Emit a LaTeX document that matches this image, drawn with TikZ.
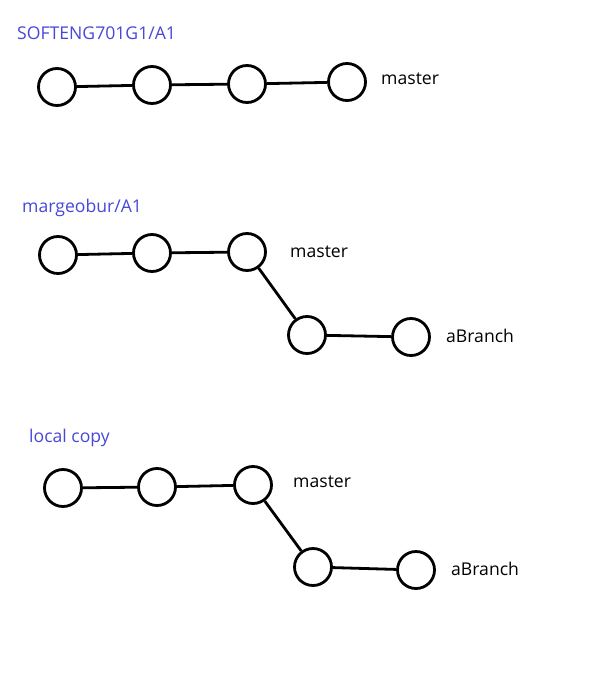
\documentclass[tikz,border=0pt]{standalone}
\usepackage{fontspec}
\setmainfont{Open Sans}
\definecolor{titleblue}{RGB}{72,72,216}
\begin{document}
\begin{tikzpicture}[x=1pt,y=-1pt,
  commit/.style={circle,draw=black,line width=2.8pt,minimum size=37pt,inner sep=0pt},
  edge/.style={line width=2.8pt,black},
  title/.style={anchor=west,text=titleblue,font=\fontsize{17.6}{20}\selectfont,inner sep=0pt},
  label/.style={anchor=west,text=black,font=\fontsize{17.6}{20}\selectfont,inner sep=0pt}]
\useasboundingbox[fill=white] (0,0) rectangle (611,687);
% top
\node[title] (t1) at (17,33) {SOFTENG701G1/A1};
\node[commit] (a1) at (57,87) {};
\node[commit] (a2) at (152,85) {};
\node[commit] (a3) at (247,84) {};
\node[commit] (a4) at (347,82) {};
\node[label] (m1) at (381,79) {master};
\draw[edge] (a1) -- (a2);
\draw[edge] (a2) -- (a3);
\draw[edge] (a3) -- (a4);
% middle
\node[title] (t2) at (22,208) {margeobur/A1};
\node[commit] (b1) at (58,255) {};
\node[commit] (b2) at (152,253) {};
\node[commit] (b3) at (247,252) {};
\node[commit] (b4) at (307,335) {};
\node[commit] (b5) at (411,337) {};
\node[label] (m2) at (290,252) {master};
\node[label] (br2) at (446,336) {aBranch};
\draw[edge] (b1) -- (b2);
\draw[edge] (b2) -- (b3);
\draw[edge] (b3) -- (b4);
\draw[edge] (b4) -- (b5);
% bottom
\node[title] (t3) at (29,438) {local copy};
\node[commit] (c1) at (63,488) {};
\node[commit] (c2) at (157,487) {};
\node[commit] (c3) at (253,485) {};
\node[commit] (c4) at (313,567) {};
\node[commit] (c5) at (416,570) {};
\node[label] (m3) at (293,482) {master};
\node[label] (br3) at (451,569) {aBranch};
\draw[edge] (c1) -- (c2);
\draw[edge] (c2) -- (c3);
\draw[edge] (c3) -- (c4);
\draw[edge] (c4) -- (c5);
\end{tikzpicture}
\end{document}
